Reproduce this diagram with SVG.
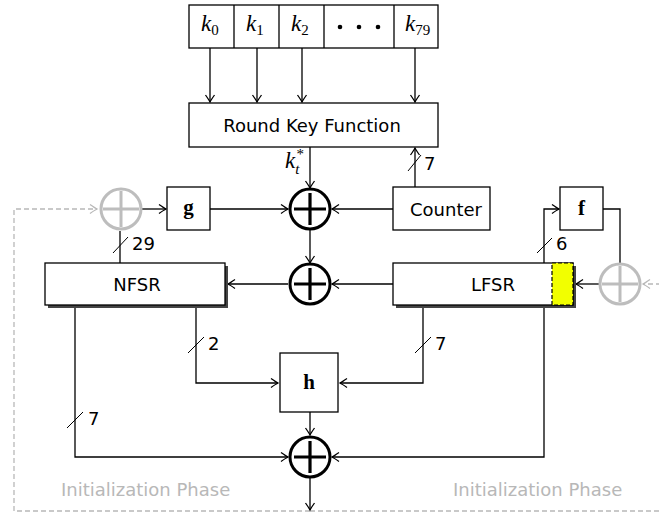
<svg xmlns="http://www.w3.org/2000/svg" width="659" height="513" viewBox="0 0 659 513">
<defs>
<style>
.box{fill:#fff;stroke:#000;stroke-width:1.3}
.ln{fill:none;stroke:#000;stroke-width:1.3}
.gl{fill:none;stroke:#b8b8b8;stroke-width:1.3;stroke-dasharray:5,3}
.sl{stroke:#000;stroke-width:1}
.sans{font-family:"DejaVu Sans","Liberation Sans",sans-serif;font-size:18px;fill:#000}
.lbl{font-family:"DejaVu Sans","Liberation Sans",sans-serif;font-size:18px;fill:#000}
.gtxt{font-family:"DejaVu Sans","Liberation Sans",sans-serif;font-size:18px;fill:#b8b8b8}
.mi{font-family:"Liberation Serif",serif;font-style:italic;font-size:23px;fill:#000}
.sub{font-family:"Liberation Serif",serif;font-size:15px;fill:#000;font-style:normal}
.subi{font-family:"Liberation Serif",serif;font-size:15px;fill:#000;font-style:italic}
.bf{font-family:"Liberation Serif",serif;font-weight:bold;font-size:21px;fill:#000}
.xor{fill:#fff;stroke:#000;stroke-width:3}
.gxor{fill:none;stroke:#bdbdbd;stroke-width:3}
</style>
<marker id="ar" markerUnits="userSpaceOnUse" markerWidth="12" markerHeight="12" viewBox="-8 -6 10 12" refX="0" refY="0" orient="auto">
<path d="M-7,-4.5 Q-2,-1 0,0 Q-2,1 -7,4.5" fill="none" stroke="#000" stroke-width="1.3"/>
</marker>
<marker id="gar" markerUnits="userSpaceOnUse" markerWidth="12" markerHeight="12" viewBox="-8 -6 10 12" refX="0" refY="0" orient="auto">
<path d="M-7,-4.5 Q-2,-1 0,0 Q-2,1 -7,4.5" fill="none" stroke="#b8b8b8" stroke-width="1.3"/>
</marker>
</defs>
<rect width="659" height="513" fill="#fff"/>

<g id="init-loop">
<path class="gl" d="M310,511 L14,511 L14,209 L97,209" marker-end="url(#gar)"/>
<path class="gl" d="M310,511 L680,511 L680,284 L643,284" marker-end="url(#gar)"/>
<text class="gtxt" x="61" y="496">Initialization Phase</text>
<text class="gtxt" x="453" y="496">Initialization Phase</text>
</g>

<g id="connectors">
<line class="ln" x1="210" y1="48" x2="210" y2="102" marker-end="url(#ar)"/>
<line class="ln" x1="257" y1="48" x2="257" y2="102" marker-end="url(#ar)"/>
<line class="ln" x1="302" y1="48" x2="302" y2="102" marker-end="url(#ar)"/>
<line class="ln" x1="415" y1="48" x2="415" y2="102" marker-end="url(#ar)"/>
<line class="ln" x1="310" y1="147" x2="310" y2="188" marker-end="url(#ar)"/>
<line class="ln" x1="415" y1="187" x2="415" y2="148" marker-end="url(#ar)"/>
<line class="sl" x1="408" y1="171" x2="421" y2="155"/>
<line class="ln" x1="393" y1="209" x2="332" y2="209" marker-end="url(#ar)"/>
<line class="ln" x1="210" y1="209" x2="288" y2="209" marker-end="url(#ar)"/>
<line class="ln" x1="142" y1="209" x2="166" y2="209" marker-end="url(#ar)"/>
<line class="ln" x1="120" y1="263" x2="120" y2="231"/>
<line class="sl" x1="113" y1="253" x2="128" y2="237"/>
<line class="ln" x1="310" y1="230" x2="310" y2="263" marker-end="url(#ar)"/>
<line class="ln" x1="393" y1="284" x2="332" y2="284" marker-end="url(#ar)"/>
<line class="ln" x1="288" y1="284" x2="228" y2="284" marker-end="url(#ar)"/>
<path class="ln" d="M544,263 L544,209 L559,209" marker-end="url(#ar)"/>
<line class="sl" x1="537" y1="253" x2="552" y2="238"/>
<path class="ln" d="M603,209 L620,209 L620,263"/>
<line class="ln" x1="599" y1="284" x2="576" y2="284" marker-end="url(#ar)"/>
<path class="ln" d="M196,305 L196,383 L278,383" marker-end="url(#ar)"/>
<line class="sl" x1="188" y1="353" x2="204" y2="337"/>
<path class="ln" d="M423,305 L423,383 L340,383" marker-end="url(#ar)"/>
<line class="sl" x1="415" y1="353" x2="431" y2="337"/>
<line class="ln" x1="310" y1="412" x2="310" y2="435" marker-end="url(#ar)"/>
<path class="ln" d="M75,305 L75,457 L288,457" marker-end="url(#ar)"/>
<line class="sl" x1="67" y1="428" x2="83" y2="412"/>
<path class="ln" d="M544,305 L544,457 L332,457" marker-end="url(#ar)"/>
<line class="ln" x1="310" y1="478" x2="310" y2="510" marker-end="url(#ar)"/>
<text class="lbl" x="424" y="170">7</text>
<text class="lbl" x="132" y="250">29</text>
<text class="lbl" x="556" y="250">6</text>
<text class="lbl" x="208" y="350">2</text>
<text class="lbl" x="435" y="350">7</text>
<text class="lbl" x="88" y="425">7</text>
<text class="mi" x="285" y="168">k<tspan class="subi" dy="6">t</tspan><tspan class="sub" dx="-3" dy="-15">*</tspan></text>
</g>

<g id="keys">
<rect class="box" x="189" y="5" width="249" height="43"/>
<line class="ln" x1="234" y1="5" x2="234" y2="48"/>
<line class="ln" x1="279" y1="5" x2="279" y2="48"/>
<line class="ln" x1="324" y1="5" x2="324" y2="48"/>
<line class="ln" x1="394" y1="5" x2="394" y2="48"/>
<text class="mi" x="201" y="31">k<tspan class="sub" dy="4">0</tspan></text>
<text class="mi" x="246" y="31">k<tspan class="sub" dy="4">1</tspan></text>
<text class="mi" x="291" y="31">k<tspan class="sub" dy="4">2</tspan></text>
<circle cx="340" cy="27" r="2.3"/><circle cx="359" cy="27" r="2.3"/><circle cx="378" cy="27" r="2.3"/>
<text class="mi" x="405" y="31">k<tspan class="sub" dy="4">79</tspan></text>
</g>

<g id="rkf">
<rect class="box" x="189" y="103" width="249" height="44"/>
<text class="sans" x="312" y="132" text-anchor="middle">Round Key Function</text>
</g>

<g id="counter">
<rect class="box" x="393" y="187" width="97" height="43"/>
<text class="sans" x="446" y="216" text-anchor="middle">Counter</text>
</g>

<g id="g">
<rect class="box" x="167" y="187" width="43" height="43"/>
<text class="bf" x="188.5" y="214" text-anchor="middle">g</text>
</g>

<g id="f">
<rect class="box" x="560" y="187" width="43" height="43"/>
<text class="bf" x="581.5" y="215" text-anchor="middle">f</text>
</g>

<g id="h">
<rect class="box" x="280" y="353" width="58" height="59"/>
<text class="bf" x="309" y="389" text-anchor="middle">h</text>
</g>

<g id="nfsr">
<rect x="48" y="266" width="180" height="42" fill="#444"/>
<rect class="box" x="45" y="263" width="180" height="42"/>
<text class="sans" x="137" y="291" text-anchor="middle">NFSR</text>
</g>

<g id="lfsr">
<rect x="396" y="266" width="180" height="42" fill="#444"/>
<rect class="box" x="393" y="263" width="180" height="42"/>
<rect x="552" y="263" width="21" height="42" fill="#f2ff00" stroke="#000" stroke-width="1.2" stroke-dasharray="4,2"/>
<text class="sans" x="493" y="291" text-anchor="middle">LFSR</text>
</g>

<g id="xor-top">
<circle class="xor" cx="310" cy="209" r="20"/>
<path d="M310,193 V225 M294,209 H326" stroke="#000" stroke-width="3.2"/>
</g>
<g id="xor-mid">
<circle class="xor" cx="310" cy="284" r="20"/>
<path d="M310,268 V300 M294,284 H326" stroke="#000" stroke-width="3.2"/>
</g>
<g id="xor-out">
<circle class="xor" cx="310" cy="457" r="20"/>
<path d="M310,441 V473 M294,457 H326" stroke="#000" stroke-width="3.2"/>
</g>
<g id="xor-nfsr-in">
<circle class="gxor" cx="121" cy="209" r="20"/>
<path d="M121,191 V227 M103,209 H139" stroke="#bdbdbd" stroke-width="3"/>
</g>
<g id="xor-lfsr-in">
<circle class="gxor" cx="620" cy="284" r="20"/>
<path d="M620,266 V302 M602,284 H638" stroke="#bdbdbd" stroke-width="3"/>
</g>
</svg>
